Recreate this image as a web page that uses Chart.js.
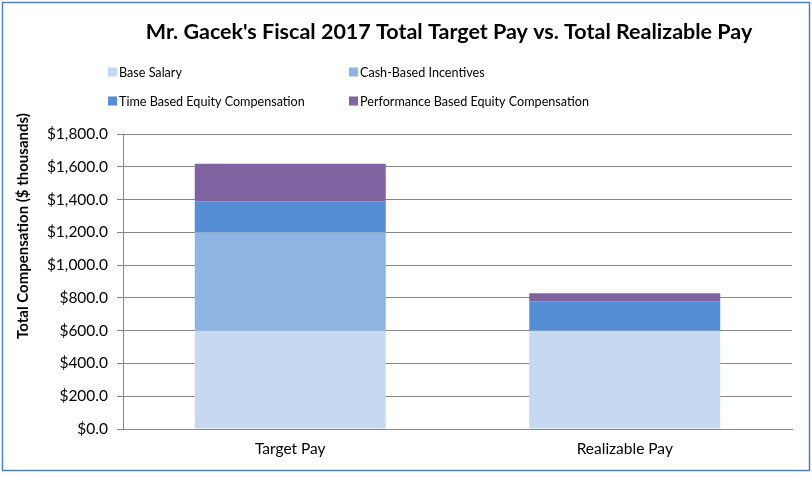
<!DOCTYPE html>
<html lang="en">
<head>
    <meta charset="UTF-8">
    <title>Mr. Gacek's Fiscal 2017 Total Target Pay vs. Total Realizable Pay</title>
    <script src="https://cdn.jsdelivr.net/npm/chart.js"></script>
    <style>
        body {
            margin: 0;
            background: #ffffff;
        }
        #wrap {
            position: relative;
            width: 812px;
            height: 477px;
        }
    </style>
</head>
<body>
    <div id="wrap">
        <canvas id="myChart" width="812" height="477"></canvas>
    </div>

    <script>
        // Chart values ($ thousands)
        const categories = ['Target Pay', 'Realizable Pay'];
        const baseSalary = [600, 600];
        const cashIncentives = [600, 0];
        const timeEquity = [190, 180];
        const perfEquity = [228, 48];

        const seriesNames = ['Base Salary', 'Cash-Based Incentives', 'Time Based Equity Compensation', 'Performance Based Equity Compensation'];
        const seriesColors = ['#c6d9f1', '#8eb4e3', '#558ed5', '#8064a2'];

        const chartTitle = "Mr. Gacek's Fiscal 2017 Total Target Pay vs. Total Realizable Pay";
        const yAxisTitle = 'Total Compensation ($ thousands)';

        const fontFamily = 'Lato, "Open Sans", sans-serif';
        const gridColor = '#868686';

        // draws the title, y-axis title, the two-column legend and the outer frame
        const decorations = {
            id: 'decorations',
            afterDraw(chart) {
                const ctx = chart.ctx;
                ctx.save();

                // outer frame
                ctx.strokeStyle = '#4f81bd';
                ctx.lineWidth = 1.5;
                ctx.strokeRect(2.5, 2.5, 807, 468);

                // title
                ctx.fillStyle = '#000000';
                ctx.font = 'bold 21.5px ' + fontFamily;
                ctx.textAlign = 'center';
                ctx.textBaseline = 'middle';
                ctx.fillText(chartTitle, 449, 32);

                // y axis title (sits above the axis centre, like the original)
                ctx.save();
                ctx.translate(23, 226);
                ctx.rotate(-Math.PI / 2);
                ctx.font = 'bold 15px ' + fontFamily;
                ctx.fillText(yAxisTitle, 0, 0);
                ctx.restore();

                // legend, 2 x 2
                const colX = [108, 349];
                const rowY = [72, 101];
                ctx.font = '12.6px ' + fontFamily;
                ctx.textAlign = 'left';
                chart.data.datasets.forEach((ds, i) => {
                    const x = colX[i % 2];
                    const y = rowY[Math.floor(i / 2)];
                    ctx.fillStyle = ds.backgroundColor;
                    ctx.fillRect(x, y - 4.5, 9, 9);
                    ctx.fillStyle = '#000000';
                    ctx.fillText(ds.label, x + 11, y + 1);
                });

                ctx.restore();
            }
        };

        const allSeries = [baseSalary, cashIncentives, timeEquity, perfEquity];

        const ctx = document.getElementById('myChart').getContext('2d');
        const chartInstance = new Chart(ctx, {
            type: 'bar',
            data: {
                labels: categories,
                datasets: allSeries.map((values, i) => ({
                    label: seriesNames[i],
                    data: values,
                    backgroundColor: seriesColors[i],
                    borderWidth: 0,
                    categoryPercentage: 1.0,
                    barPercentage: 0.571
                }))
            },
            options: {
                responsive: false,
                animation: false,
                layout: {
                    padding: { left: 0, right: 20, top: 134, bottom: 10 }
                },
                plugins: {
                    legend: { display: false },
                    title: { display: false },
                    tooltip: { enabled: false }
                },
                scales: {
                    x: {
                        stacked: true,
                        grid: { display: false, drawTicks: false },
                        border: { display: true, color: gridColor, width: 1 },
                        ticks: {
                            color: '#000000',
                            font: { family: fontFamily, size: 15.5 },
                            padding: 11
                        },
                        afterFit(scale) {
                            scale.height = 38;
                        }
                    },
                    y: {
                        stacked: true,
                        min: 0,
                        max: 1800,
                        grid: {
                            color: gridColor,
                            lineWidth: 1,
                            tickLength: 6
                        },
                        border: { display: true, color: gridColor, width: 1 },
                        ticks: {
                            stepSize: 200,
                            color: '#000000',
                            font: { family: fontFamily, size: 15.5 },
                            padding: 9,
                            callback: v => '$' + v.toLocaleString('en-US', { minimumFractionDigits: 1, maximumFractionDigits: 1 })
                        },
                        afterFit(scale) {
                            scale.width = 123;
                        }
                    }
                }
            },
            plugins: [decorations]
        });
    </script>
</body>
</html>
